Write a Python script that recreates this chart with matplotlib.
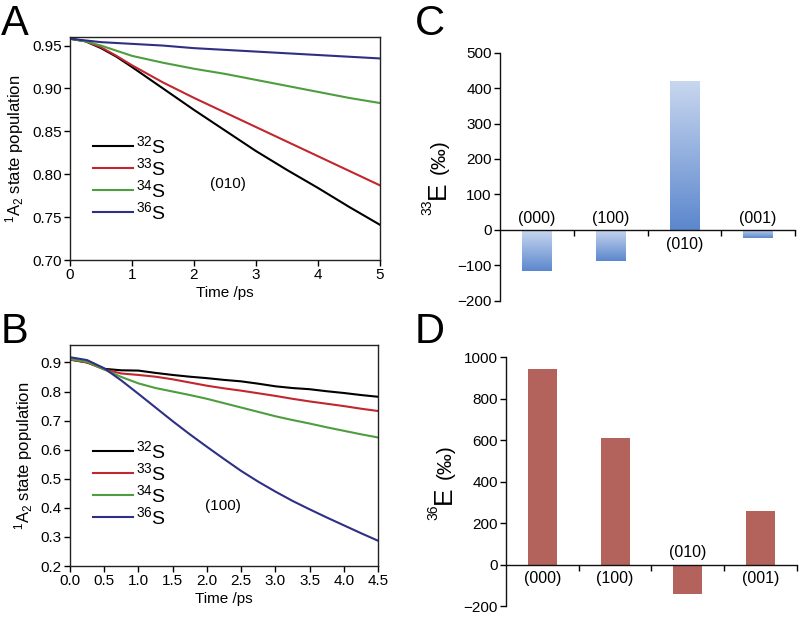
import numpy as np
import matplotlib
matplotlib.use("Agg")
import matplotlib.pyplot as plt
from matplotlib.colors import LinearSegmentedColormap

plt.rcParams['font.family'] = ['Liberation Sans', 'DejaVu Sans']
plt.rcParams['mathtext.fontset'] = 'custom'
plt.rcParams['mathtext.rm'] = 'Liberation Sans'
plt.rcParams['mathtext.default'] = 'regular'

# panel A: (010) excitation
time_a = [0, 0.25, 0.5, 0.75, 1.0, 1.5, 2.0, 2.5, 3.0, 3.5, 4.0, 4.5, 5.0]
s32_a = [0.958, 0.955, 0.947, 0.937, 0.925, 0.900, 0.875, 0.851, 0.827, 0.805, 0.784, 0.762, 0.741]
s33_a = [0.958, 0.955, 0.948, 0.938, 0.927, 0.907, 0.889, 0.872, 0.855, 0.838, 0.821, 0.804, 0.787]
s34_a = [0.958, 0.955, 0.950, 0.944, 0.938, 0.930, 0.923, 0.917, 0.910, 0.903, 0.896, 0.889, 0.883]
s36_a = [0.958, 0.956, 0.954, 0.953, 0.952, 0.950, 0.947, 0.945, 0.943, 0.941, 0.939, 0.937, 0.935]

# panel B: (100) excitation
time_b = [0, 0.25, 0.5, 0.75, 1.0, 1.25, 1.5, 1.75, 2.0, 2.25, 2.5, 2.75, 3.0,
          3.25, 3.5, 3.75, 4.0, 4.25, 4.5]
s32_b = [0.910, 0.900, 0.878, 0.873, 0.872, 0.864, 0.857, 0.851, 0.846, 0.840, 0.835,
         0.827, 0.818, 0.812, 0.808, 0.801, 0.795, 0.788, 0.782]
s33_b = [0.910, 0.900, 0.876, 0.862, 0.857, 0.851, 0.842, 0.831, 0.820, 0.811, 0.803,
         0.794, 0.785, 0.775, 0.766, 0.758, 0.750, 0.741, 0.733]
s34_b = [0.912, 0.902, 0.876, 0.850, 0.828, 0.812, 0.800, 0.788, 0.775, 0.760, 0.745,
         0.730, 0.715, 0.702, 0.690, 0.677, 0.665, 0.653, 0.642]
s36_b = [0.918, 0.908, 0.880, 0.838, 0.792, 0.745, 0.698, 0.653, 0.610, 0.568, 0.527,
         0.490, 0.456, 0.424, 0.395, 0.367, 0.340, 0.313, 0.287]

# panels C and D
modes = ['(000)', '(100)', '(010)', '(001)']
e33 = [-115, -88, 420, -23]
e36 = [942, 611, -140, 259]

isotopes = [r'$^{32}$S', r'$^{33}$S', r'$^{34}$S', r'$^{36}$S']
line_colors = ['#000000', '#c1272d', '#4e9d3f', '#2e2f85']

fig = plt.figure(figsize=(7.99, 6.17), dpi=100)
W, H = 799, 617


def add_ax(left, top, right, bottom):
    return fig.add_axes([left / W, 1 - bottom / H, (right - left) / W, (bottom - top) / H])


def line_panel(ax, t, series, xticks, xfmt, ylim, yticks, yfmt, tag, tag_xy, leg_anchor, lsp):
    for vals, lab, c in zip(series, isotopes, line_colors):
        ax.plot(t, vals, color=c, lw=1.5, label=lab)
    ax.set_xlim(t[0], t[-1])
    ax.set_ylim(*ylim)
    ax.set_xticks(xticks)
    ax.set_xticklabels([xfmt % v for v in xticks])
    ax.set_yticks(yticks)
    ax.set_yticklabels([yfmt % v for v in yticks])
    ax.tick_params(direction='out', length=4, width=1, labelsize=11, pad=2)
    for sp in ax.spines.values():
        sp.set_linewidth(1.0)
        sp.set_color('#222222')
    ax.set_xlabel('Time /ps', fontsize=11, labelpad=3)
    ax.set_ylabel(r'$^1$A$_2$ state population', fontsize=12, labelpad=4)
    ax.text(tag_xy[0], tag_xy[1], tag, fontsize=11, ha='center', va='center')
    ax.legend(loc='upper left', bbox_to_anchor=leg_anchor, frameon=False, fontsize=14,
              handlelength=2.05, handletextpad=0.15, labelspacing=lsp, borderpad=0,
              borderaxespad=0)


ax_a = add_ax(70, 37, 380, 260)
line_panel(ax_a, time_a, [s32_a, s33_a, s34_a, s36_a], [0, 1, 2, 3, 4, 5], '%d',
           (0.70, 0.96), np.arange(0.70, 0.951, 0.05), '%.2f', '(010)', (2.55, 0.789),
           (0.075, 0.56), 0.0)

ax_b = add_ax(70, 345, 378, 566)
line_panel(ax_b, time_b, [s32_b, s33_b, s34_b, s36_b], np.arange(0, 4.51, 0.5), '%.1f',
           (0.2, 0.96), np.arange(0.2, 0.91, 0.1), '%.1f', '(100)', (2.24, 0.407),
           (0.075, 0.57), 0.0)


def e_label(ax, sup):
    # rotated "^{nn}E (‰)" label with a large E, built from three pieces
    bb = ax.get_position()
    base_x = bb.x0 * W - 55
    cy = (1 - (bb.y0 + bb.height / 2)) * H
    kw = dict(rotation=90, rotation_mode='anchor', va='baseline')
    fig.text((base_x - 14) / W, 1 - (cy + 23) / H, sup, fontsize=10, ha='right', **kw)
    fig.text(base_x / W, 1 - (cy + 22) / H, 'E', fontsize=19, ha='left', **kw)
    fig.text(base_x / W, 1 - (cy - 3) / H, '(‰)', fontsize=15, ha='left', **kw)


def bar_panel(ax, values, ylim, yticks, sup, gradient=None, color=None):
    x = np.arange(len(values))
    bars = ax.bar(x, values, width=0.4, color=color if color else 'none', zorder=2)
    if gradient is not None:
        cmap = LinearSegmentedColormap.from_list('g', gradient)
        grad = np.linspace(0, 1, 256).reshape(-1, 1)
        for b in bars:
            x0, y0 = b.get_x(), b.get_y()
            w, h = b.get_width(), b.get_height()
            ylo, yhi = min(y0, y0 + h), max(y0, y0 + h)
            im = ax.imshow(grad, cmap=cmap, aspect='auto', extent=(x0, x0 + w, ylo, yhi),
                           origin='upper', zorder=2)
            im.set_clip_path(b)
    ax.set_xlim(-0.5, len(values) - 0.5)
    ax.set_ylim(*ylim)
    ax.set_yticks(yticks)
    ax.spines['top'].set_visible(False)
    ax.spines['right'].set_visible(False)
    ax.spines['bottom'].set_position(('data', 0))
    for sp in ['left', 'bottom']:
        ax.spines[sp].set_linewidth(1.0)
        ax.spines[sp].set_color('#111111')
    ax.spines['bottom'].set_zorder(3)
    ax.set_xticks(x + 0.5)
    ax.set_xticklabels([])
    ax.tick_params(axis='x', direction='out', length=4, width=1)
    ax.tick_params(axis='y', direction='out', length=4, width=1, labelsize=11, pad=2)
    for xi, v, m in zip(x, values, modes):
        if v < 0:
            ax.annotate(m, (xi, 0), xytext=(0, 3), textcoords='offset points',
                        ha='center', va='bottom', fontsize=11.5)
        else:
            ax.annotate(m, (xi, 0), xytext=(0, -5), textcoords='offset points',
                        ha='center', va='top', fontsize=11.5)
    e_label(ax, sup)


ax_c = add_ax(500, 52.7, 795, 300.7)
bar_panel(ax_c, e33, (-200, 500), np.arange(-200, 501, 100), '33',
          gradient=['#c8d7ef', '#5c87cd'])

ax_d = add_ax(506, 357.3, 797, 606)
bar_panel(ax_d, e36, (-200, 1000), np.arange(-200, 1001, 200), '36', color='#b4625c')

for lab, px, py in [('A', 1, 35), ('B', 1, 343), ('C', 415, 35), ('D', 415, 343)]:
    fig.text(px / W, 1 - py / H, lab, fontsize=30, ha='left', va='baseline')

fig.savefig('out.png', dpi=100)
